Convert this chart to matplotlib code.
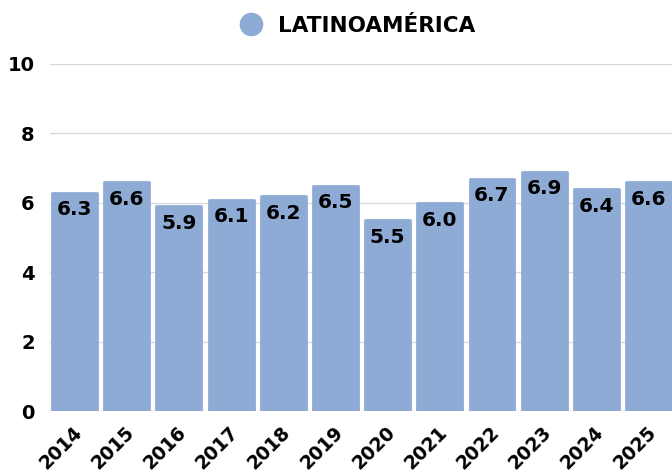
import matplotlib
matplotlib.use("Agg")
import matplotlib.pyplot as plt
from matplotlib.lines import Line2D
from matplotlib.transforms import ScaledTranslation

years = ["2014", "2015", "2016", "2017", "2018", "2019",
         "2020", "2021", "2022", "2023", "2024", "2025"]
values = [6.3, 6.6, 5.9, 6.1, 6.2, 6.5, 5.5, 6.0, 6.7, 6.9, 6.4, 6.6]
series_name = "LATINOAMÉRICA"
y_ticks = [0, 2, 4, 6, 8, 10]

BAR_COLOR = "#8EABD6"
FONT = "DejaVu Sans"


def main():
    fig = plt.figure(figsize=(6.72, 4.74), dpi=100)
    ax = fig.add_axes([0.0744, 0.1319, 0.9256, 0.7331])

    x = list(range(len(years)))
    bars = ax.bar(x, values, width=0.86, color=BAR_COLOR, edgecolor=BAR_COLOR,
                  linewidth=2.0, zorder=3)
    for b in bars:
        b.set_joinstyle("round")

    # value labels inside the top of each bar
    for b, v in zip(bars, values):
        ax.annotate("{:.1f}".format(v), (b.get_x() + b.get_width() / 2, v),
                    xytext=(0, -5.5), textcoords="offset points",
                    ha="center", va="top", fontsize=14.5,
                    fontweight="heavy", family=FONT, color="black", zorder=4)

    ax.set_xlim(-0.47, 11.45)
    ax.set_ylim(0, 10)
    ax.set_yticks(y_ticks)
    ax.set_yticklabels([str(t) for t in y_ticks], fontsize=14,
                       fontweight="bold", family=FONT)
    ax.set_xticks(x)
    ax.set_xticklabels([])

    # rotated year labels, anchored at their right end below each bar
    shift = ScaledTranslation(4.5 / 100, -18 / 100, fig.dpi_scale_trans)
    for i, yr in zip(x, years):
        ax.text(i, 0, yr, transform=ax.get_xaxis_transform() + shift,
                rotation=45, ha="right", va="center", rotation_mode="anchor",
                fontsize=13.5, fontweight="bold", family=FONT, clip_on=False)

    ax.tick_params(axis="both", length=0)
    ax.tick_params(axis="y", pad=11)
    ax.grid(axis="y", color="#D9D9D9", linewidth=1.0, zorder=0)
    ax.set_axisbelow(True)
    for s in ax.spines.values():
        s.set_visible(False)

    handle = Line2D([], [], marker="o", linestyle="none", markersize=16,
                    markerfacecolor=BAR_COLOR, markeredgecolor=BAR_COLOR)
    fig.legend([handle], [series_name], loc="center",
               bbox_to_anchor=(0.524, 0.946), frameon=False, handletextpad=0.25,
               prop={"family": FONT, "weight": "bold", "size": 15.5})

    fig.savefig("out.png", dpi=100)


if __name__ == "__main__":
    main()
